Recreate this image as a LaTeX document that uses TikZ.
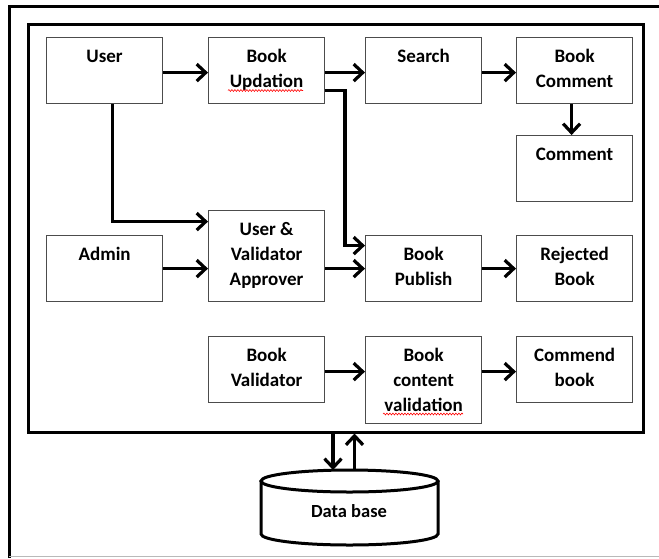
\documentclass[tikz,border=0pt]{standalone}
\usepackage{fontspec}
\setmainfont{Carlito}
\usetikzlibrary{arrows.meta,decorations.pathmorphing}
% centred, top-aligned multi-line label whose baseline is its first row
\newcommand\boxrows[1]{\begin{tabular}[t]{@{}c@{}}#1\end{tabular}}
\begin{document}
\begin{tikzpicture}[x=1pt,y=-1pt,
  box/.style={draw=black!70, line width=1.2pt, minimum width=116pt,
    minimum height=66pt, anchor=north west, inner sep=0pt},
  lbl/.style={anchor=base, inner sep=0pt,
    font=\fontsize{19}{25}\selectfont\bfseries},
  arr/.style={line width=3.2pt, -{Straight Barb[length=9pt,width=17pt,sharp]}},
  frame/.style={draw, line width=3pt, inner sep=0pt},
  spell/.style={draw=red, line width=0.6pt, decorate,
    decoration={snake, amplitude=0.9pt, segment length=3pt}}
]
\useasboundingbox (0,0) rectangle (659,558);

% outer page border
\draw[line width=3pt] (9,558) -- (9,6) -- (662,6);
\draw[gray!55, line width=1.4pt] (9,556.5) -- (659,556.5);

% system boundary
\node[frame, minimum width=615pt, minimum height=408pt] (frame) at (335.5,228) {};

% modules
\node[box] (user)   at (46,37)  {};
\node[box] (bu)     at (208,37) {};
\node[box] (search) at (365,37) {};
\node[box] (bc)     at (516,37) {};
\node[box] (cm)     at (516,135) {};
\node[box, minimum height=91pt] (appr) at (208,210) {};
\node[box] (admin)  at (46,235) {};
\node[box] (pub)    at (365,235) {};
\node[box] (rej)    at (516,235) {};
\node[box] (bv)     at (208,336) {};
\node[box, minimum height=87pt] (bcv) at (365,336) {};
\node[box] (cb)     at (516,336) {};

% module titles
\node[lbl] (user-l)   at ([yshift=-25pt]user.north)   {User};
\node[lbl] (bu-l)     at ([yshift=-25pt]bu.north)     {\boxrows{Book\\Updation}};
\node[lbl] (search-l) at ([yshift=-25pt]search.north) {Search};
\node[lbl] (bc-l)     at ([yshift=-25pt]bc.north)     {\boxrows{Book\\Comment}};
\node[lbl] (cm-l)     at ([yshift=-25pt]cm.north)     {Comment};
\node[lbl] (appr-l)   at ([yshift=-25pt]appr.north)   {\boxrows{User \&\\Validator\\Approver}};
\node[lbl] (admin-l)  at ([yshift=-25pt]admin.north)  {Admin};
\node[lbl] (pub-l)    at ([yshift=-25pt]pub.north)    {\boxrows{Book\\Publish}};
\node[lbl] (rej-l)    at ([yshift=-25pt]rej.north)    {\boxrows{Rejected\\Book}};
\node[lbl] (bv-l)     at ([yshift=-25pt]bv.north)     {\boxrows{Book\\Validator}};
\node[lbl] (bcv-l)    at ([yshift=-25pt]bcv.north)    {\boxrows{Book\\content\\validation}};
\node[lbl] (cb-l)     at ([yshift=-25pt]cb.north)     {\boxrows{Commend\\book}};

% spell-check marks
\path[spell] (228,90.5) -- (303,90.5);
\path[spell] (383,414) -- (463,414);

% flows
\draw[arr] ([yshift=-2pt]user.east) -- ([yshift=-2pt]bu.west);
\draw[arr] ([yshift=-2pt]bu.east) -- ([yshift=-2pt]search.west);
\draw[arr] ([yshift=-20pt]bu.east) -| ([xshift=-20pt,yshift=23pt]pub.west) -- ([yshift=23pt]pub.west);
\draw[arr] ([yshift=-2pt]search.east) -- ([yshift=-2pt]bc.west);
\draw[arr] ([xshift=-3pt]bc.south) -- ([xshift=-3pt]cm.north);
\draw[arr] ([xshift=8pt]user.south) |- ([yshift=34.5pt]appr.west);
\draw[arr] (admin.east) -- (admin.east -| appr.west);
\draw[arr] (pub.west -| appr.east) -- (pub.west);
\draw[arr] (pub.east) -- (rej.west);
\draw[arr] ([yshift=-2pt]bv.east) -- ([yshift=-2pt]bv.east -| bcv.west);
\draw[arr] ([yshift=-2pt]cb.west -| bcv.east) -- ([yshift=-2pt]cb.west);

% database
\draw[line width=3pt] (261,481) -- (261,534)
  arc[start angle=180, end angle=0, x radius=88.5, y radius=11] -- (438,481);
\draw[line width=3pt] (349.5,481) ellipse [x radius=88.5, y radius=11];
\node[anchor=base, inner sep=0pt, font=\fontsize{18.5}{22}\selectfont\bfseries]
  (db) at (349,517) {Data base};
\coordinate (dbin)  at (333,470);
\coordinate (dbout) at (354.5,470);
\draw[arr] (frame.south -| dbin) -- (dbin);
\draw[arr] (dbout) -- (frame.south -| dbout);
\end{tikzpicture}
\end{document}
